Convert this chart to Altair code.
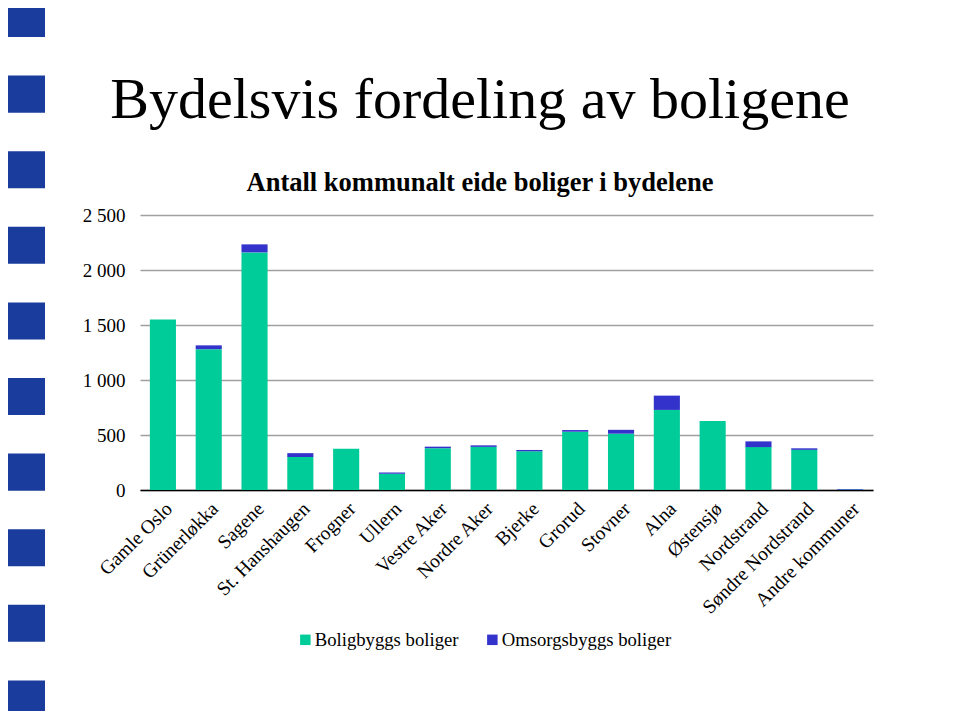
import altair as alt
import pandas as pd

categories = ["Gamle Oslo", "Grünerløkka", "Sagene", "St. Hanshaugen", "Frogner",
              "Ullern", "Vestre Aker", "Nordre Aker", "Bjerke", "Grorud", "Stovner",
              "Alna", "Østensjø", "Nordstrand", "Søndre Nordstrand", "Andre kommuner"]
boligbygg = [1550, 1280, 2160, 300, 375, 148, 380, 392, 352, 530, 512, 728, 627, 390, 365, 4]
omsorgsbygg = [0, 35, 73, 35, 0, 10, 14, 14, 12, 15, 35, 130, 0, 52, 14, 5]
series = ["Boligbyggs boliger", "Omsorgsbyggs boliger"]
y_ticks = [0, 500, 1000, 1500, 2000, 2500]
deco_rows = list(range(10))

rows = []
for c, a, b in zip(categories, boligbygg, omsorgsbygg):
    rows.append({"bydel": c, "serie": series[0], "antall": a, "ord": 0})
    rows.append({"bydel": c, "serie": series[1], "antall": b, "ord": 1})
df = pd.DataFrame(rows)

deco = pd.DataFrame({"i": deco_rows})
deco["i2"] = deco["i"] + 0.49

FONT = "Liberation Serif"

bars = alt.Chart(df).mark_bar().encode(
    x=alt.X("bydel:N", sort=categories, title=None,
            scale=alt.Scale(paddingInner=0.43, paddingOuter=0.215),
            axis=alt.Axis(labelAngle=-45, labelFontSize=19.5, labelFont=FONT,
                          labelColor="black", labelPadding=9, ticks=False,
                          tickSize=0, domainColor="black", domainWidth=1.5,
                          grid=False, labelOverlap=False, labelLimit=0)),
    y=alt.Y("antall:Q", stack="zero", title=None,
            scale=alt.Scale(domain=[0, 2500], nice=False),
            axis=alt.Axis(values=y_ticks, labelFontSize=19, labelFont=FONT,
                          labelColor="black", labelPadding=15, ticks=False,
                          tickSize=0, domain=False, grid=True, gridColor="#a0a0a0",
                          gridWidth=1.3, gridOpacity=1,
                          labelExpr="replace(format(datum.value, ','), ',', ' ')")),
    color=alt.Color("serie:N", scale=alt.Scale(domain=series, range=["#00CC99", "#3333CC"]),
                    legend=alt.Legend(title=None, orient="none", legendX=156, legendY=415,
                                      direction="horizontal", symbolType="square",
                                      symbolSize=110, symbolStrokeWidth=0,
                                      labelFontSize=18.7, labelFont=FONT, labelColor="black",
                                      columnPadding=24, labelOffset=0, labelLimit=0)),
    order=alt.Order("ord:Q"),
)

squares = alt.Chart(deco).mark_rect(color="#1A3C9C").encode(
    x=alt.value(-132),
    x2=alt.value(-95),
    y=alt.Y("i:Q", axis=None, scale=alt.Scale(domain=[0, 10], range=[-215, 541], nice=False, zero=False)),
    y2="i2:Q",
)

chart = alt.layer(squares, bars).resolve_scale(y="independent").properties(
    width=733,
    height=275,
    padding={"left": 132, "top": 207, "right": 79, "bottom": 221},
    autosize=alt.AutoSizeParams(type="none"),
    title=alt.TitleParams(
        text="Bydelsvis fordeling av boligene",
        subtitle="Antall kommunalt eide boliger i bydelene",
        font=FONT, fontSize=58, fontWeight="normal", color="black",
        subtitleFont=FONT, subtitleFontSize=26.5, subtitleFontWeight="bold",
        subtitleColor="black", subtitlePadding=40, offset=-196,
        anchor="middle", frame="group", dx=-26.5,
    ),
).configure(font=FONT).configure_view(stroke=None)

chart.save("out.html", embed_options={"renderer": "svg", "actions": False})
